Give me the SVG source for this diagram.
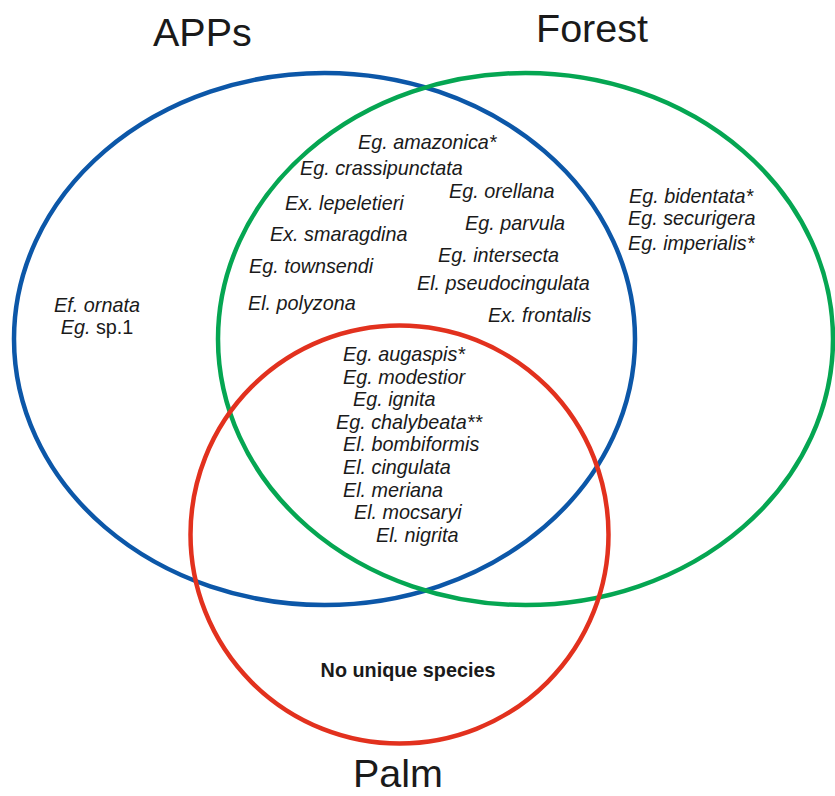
<svg xmlns="http://www.w3.org/2000/svg" width="835" height="796" viewBox="0 0 835 796">
<style>
.set{fill:none;stroke-width:4.5}
.t{font-family:"Liberation Sans",Arial,sans-serif;font-size:19.8px;font-style:italic;fill:#1a1a1a}
.title{font-family:"Liberation Sans",Arial,sans-serif;font-size:39.5px;fill:#1a1a1a}
.b{font-family:"Liberation Sans",Arial,sans-serif;font-size:19.8px;font-weight:bold;fill:#1a1a1a}
.n{font-style:normal}
</style>
<rect width="835" height="796" fill="#ffffff"/>
<g id="set-apps">
<ellipse class="set" cx="324.5" cy="339" rx="310.5" ry="266" stroke="#0c57a8"/>
<text class="title" x="153" y="45.5">APPs</text>
</g>
<g id="set-forest">
<ellipse class="set" cx="525.5" cy="339" rx="307.5" ry="266" stroke="#05a652"/>
<text class="title" x="536" y="41.5">Forest</text>
</g>
<g id="set-palm">
<circle class="set" cx="399.5" cy="534.5" r="209" stroke="#e2311e"/>
<text class="title" x="353" y="787">Palm</text>
</g>
<g id="apps-only">
<text class="t" x="97" y="312" text-anchor="middle">Ef. ornata</text>
<text class="t" x="97" y="334" text-anchor="middle">Eg.<tspan class="n"> sp.1</tspan></text>
</g>
<g id="forest-only">
<text class="t" x="629" y="203">Eg. bidentata*</text>
<text class="t" x="628" y="225">Eg. securigera</text>
<text class="t" x="628" y="250">Eg. imperialis*</text>
</g>
<g id="apps-forest">
<text class="t" x="358" y="149">Eg. amazonica*</text>
<text class="t" x="300" y="175">Eg. crassipunctata</text>
<text class="t" x="449" y="198">Eg. orellana</text>
<text class="t" x="285" y="210">Ex. lepeletieri</text>
<text class="t" x="465" y="230">Eg. parvula</text>
<text class="t" x="270" y="241">Ex. smaragdina</text>
<text class="t" x="438" y="262">Eg. intersecta</text>
<text class="t" x="249" y="273">Eg. townsendi</text>
<text class="t" x="417" y="290">El. pseudocingulata</text>
<text class="t" x="248" y="310">El. polyzona</text>
<text class="t" x="488" y="322">Ex. frontalis</text>
</g>
<g id="all-three">
<text class="t" x="343" y="361">Eg. augaspis*</text>
<text class="t" x="343" y="384">Eg. modestior</text>
<text class="t" x="353" y="406">Eg. ignita</text>
<text class="t" x="336" y="429">Eg. chalybeata**</text>
<text class="t" x="343" y="451">El. bombiformis</text>
<text class="t" x="343" y="474">El. cingulata</text>
<text class="t" x="343" y="497">El. meriana</text>
<text class="t" x="354" y="519">El. mocsaryi</text>
<text class="t" x="376" y="542">El. nigrita</text>
</g>
<g id="palm-only">
<text class="b" x="408" y="677" text-anchor="middle">No unique species</text>
</g>
<g id="connectors"/>
</svg>
